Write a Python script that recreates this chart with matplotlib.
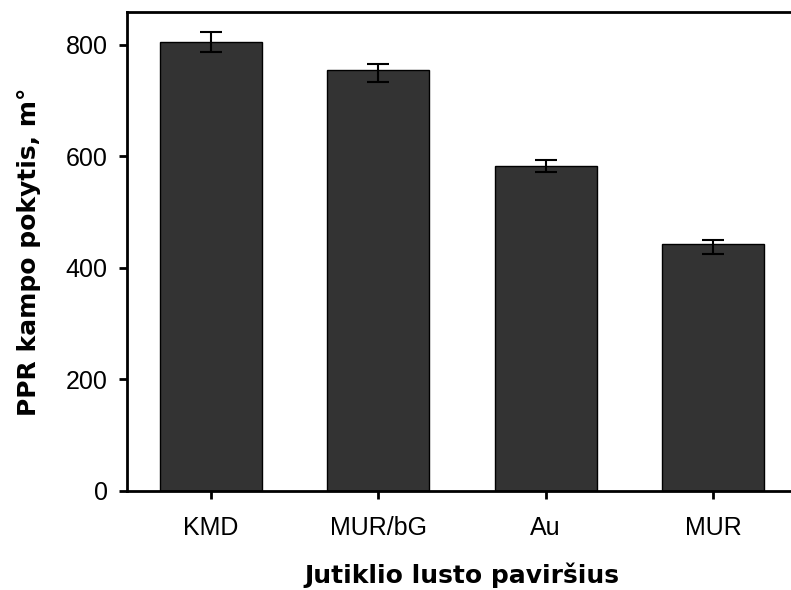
import matplotlib.pyplot as plt
import numpy as np

plt.rcParams['font.family'] = ['Liberation Sans', 'DejaVu Sans']

# duomenys
categories = ['KMD', 'MUR/bG', 'Au', 'MUR']
values = [805, 755, 583, 443]
err_low = [17, 21, 11, 18]
err_high = [19, 11, 11, 7]

fig = plt.figure(figsize=(7.91, 5.90), dpi=100)
ax = fig.add_axes([127 / 791, 1 - 491 / 590, (797 - 127) / 791, (491 - 12) / 590])

x = np.arange(len(categories))
ax.bar(x, values, width=0.61, color='#333333', edgecolor='black', linewidth=1.0)
ax.errorbar(x, values, yerr=[err_low, err_high], fmt='none', ecolor='black',
            elinewidth=1.5, capsize=8, capthick=1.5)

ax.set_xlim(-0.5, 3.5)
ax.set_ylim(0, 859)
ax.set_yticks([0, 200, 400, 600, 800])
ax.set_xticks(x)
ax.set_xticklabels(categories)

for s in ax.spines.values():
    s.set_linewidth(2)
ax.tick_params(axis='both', direction='out', width=2, length=6, labelsize=18)
ax.tick_params(axis='x', pad=12)
ax.tick_params(axis='y', pad=8)

ax.set_xlabel('Jutiklio lusto paviršius', fontsize=18, fontweight='bold',
              family='DejaVu Sans', labelpad=16)
ax.set_ylabel('PPR kampo pokytis, m°', fontsize=18, fontweight='bold',
              family='DejaVu Sans', labelpad=18)

plt.savefig('out.png', dpi=100)
